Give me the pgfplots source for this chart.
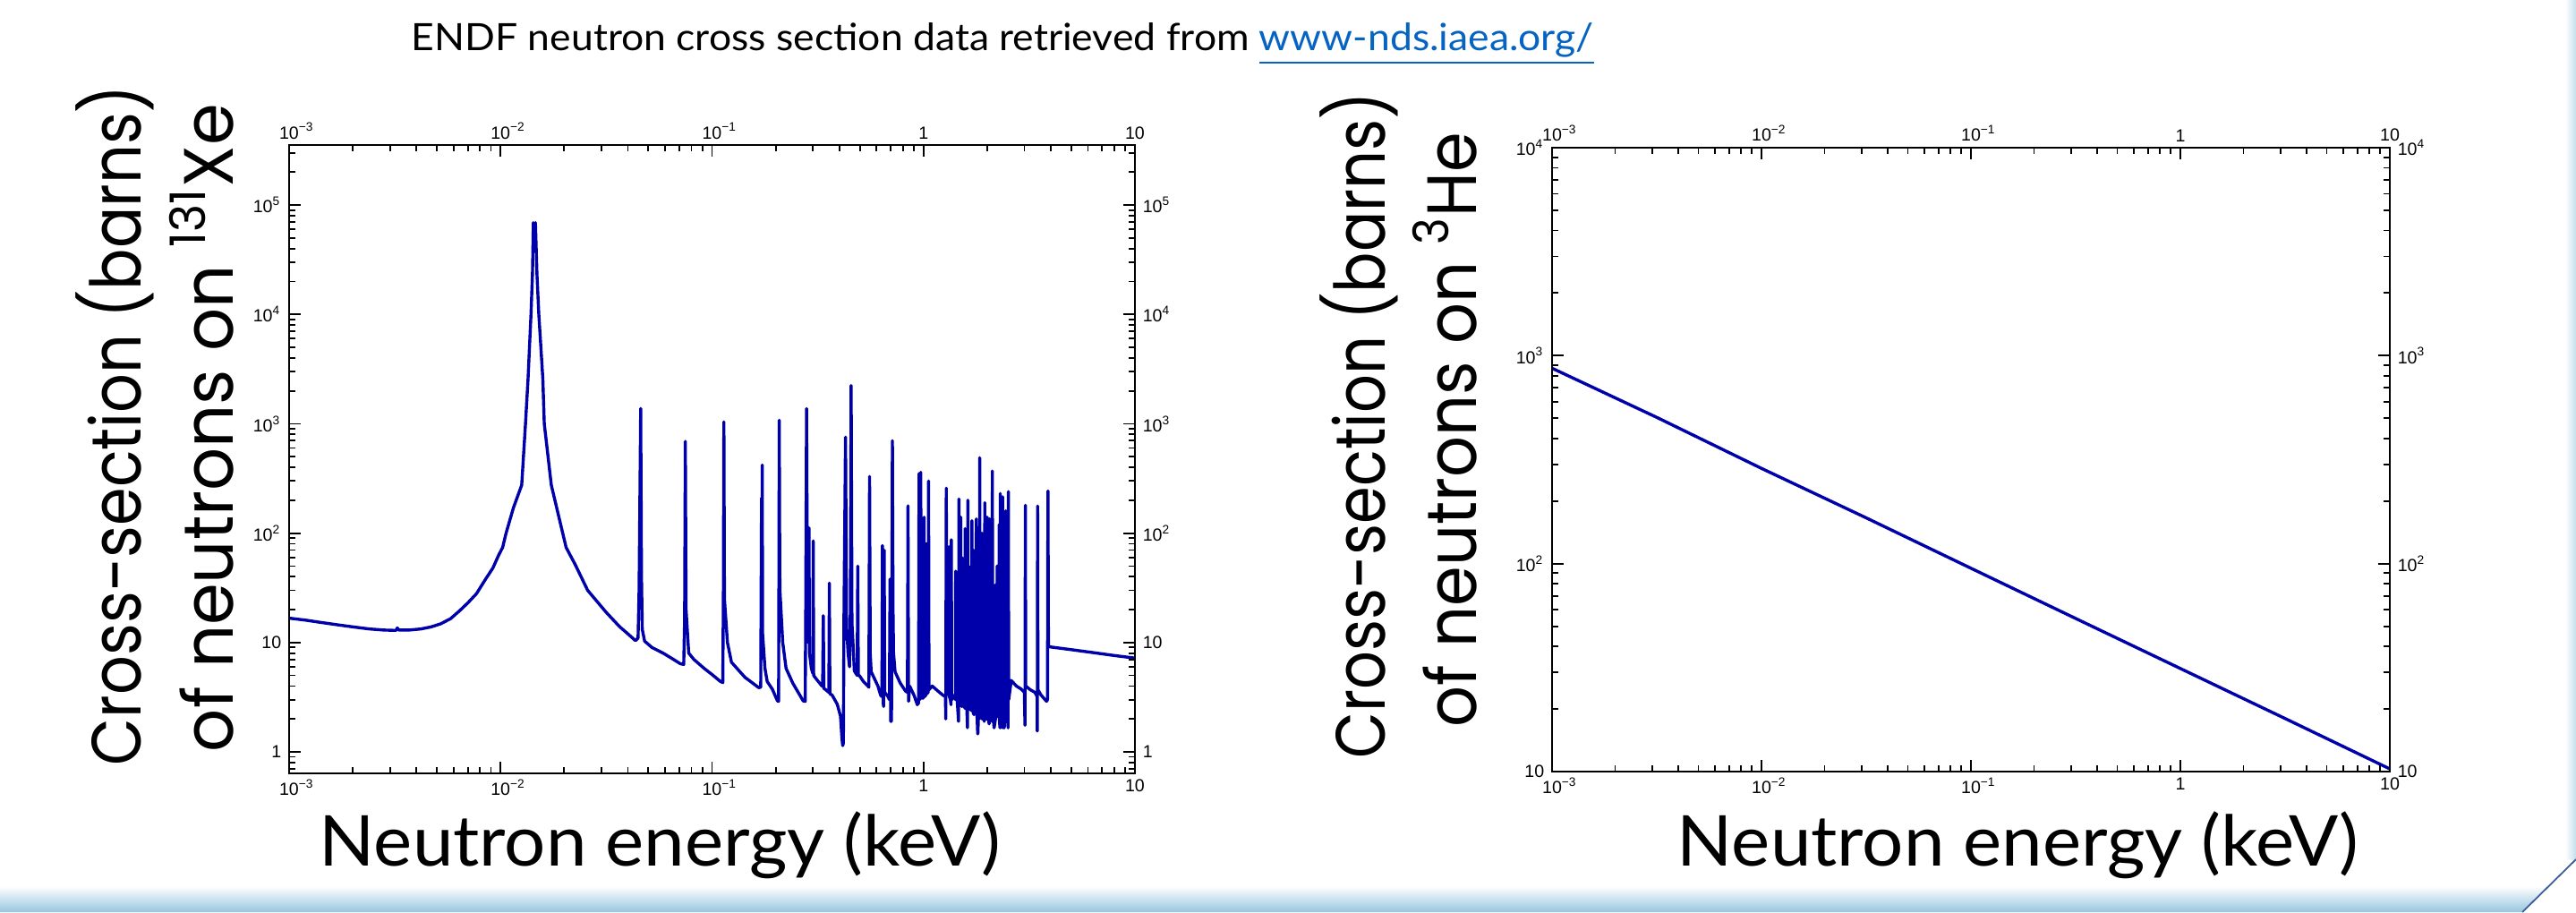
\documentclass[border=0pt]{standalone}
\usepackage{fontspec}
\usepackage{graphicx}
\usepackage{pgfplots}
\pgfplotsset{compat=1.18}
\setmainfont{Lato}
\newfontfamily\tickfont{Liberation Sans}
\newfontfamily\gothic{Poppins}
\definecolor{xsblue}{RGB}{0,0,170}
\definecolor{linkblue}{RGB}{5,99,193}
\definecolor{barblue}{RGB}{150,198,222}
\definecolor{diagblue}{RGB}{60,95,155}
\definecolor{stripblue}{RGB}{195,222,238}

\newsavebox\fitbox
\newlength\fitlen
\newcommand{\fitto}[2]{\sbox\fitbox{#2}\setlength\fitlen{\wd\fitbox}\pgfmathsetmacro\fitratio{#1/\fitlen}\scalebox{\fitratio}[1]{\usebox\fitbox}}

\pgfplotstableread{
x y
0.001 16.7
0.0012 16.0
0.0014 15.3
0.0017 14.5
0.002 13.9
0.0024 13.3
0.0028 13.0
0.0032 12.9
0.00325 13.6
0.0033 13.0
0.0037 13.0
0.0042 13.3
0.0047 13.9
0.0052 14.8
0.0058 16.5
0.0064 19.5
0.0070 23
0.0077 28
0.0085 38
0.0092 48
0.0098 63
0.01023 74
0.01062 100
0.0115 170
0.01259 275
0.01312 1000
0.01349 2570
0.01393 10000
0.01416 23800
0.01429 69000
0.01445 62000
0.01462 69000
0.01486 23800
0.01517 10000
0.01585 2570
0.0161 1000
0.01738 275
0.01968 100
0.02042 74
0.0225 52
0.02582 30
0.0315 19
0.0365 14
0.0400 12
0.04345 10.4
0.0447 11
0.0452 30
0.0460 1380
0.0464 40
0.0468 13.2
0.0480 10.3
0.0520 9.0
0.0587 8.0
0.0650 7.1
0.0708 6.4
0.0735 6.3
0.0742 16
0.0748 690
0.0754 20
0.0776 8.0
0.0821 7.0
0.0918 5.8
0.1000 5.1
0.1096 4.4
0.1125 4.3
0.1132 30
0.1138 1040
0.1145 25
0.1183 10
0.1236 6.6
0.1432 4.8
0.1663 3.87
0.1700 3.9
0.1715 210
0.1722 15
0.1728 420
0.1735 12
0.178 5.8
0.1824 4.4
0.1928 3.75
0.204 2.92
0.2065 2.9
0.2072 40
0.208 1080
0.2088 112
0.2095 30
0.216 10
0.224 5.8
0.241 4.25
0.27 2.92
0.276 2.9
0.2775 20
0.280 1380
0.2825 30
0.285 10
0.2875 112
0.289 8
0.295 5.8
0.300 5.2
0.301 85
0.3025 5.0
0.307 4.8
0.331 4.0
0.3335 4.0
0.336 17.6
0.338 3.8
0.345 3.7
0.357 3.5
0.359 35
0.361 3.4
0.37 3.3
0.391 2.73
0.405 2.13
0.412 1.3
0.415 1.14
0.418 1.2
0.421 20
0.428 755
0.433 14
0.44 8
0.447 6
0.451 20
0.455 2240
0.459 15
0.462 12
0.471 5.5
0.486 5.0
0.489 50
0.492 5.0
0.497 5.0
0.52 4.4
0.546 4.0
0.552 3.9
0.556 330
0.560 8
0.566 5.4
0.609 4.0
0.627 3.3
0.636 3.2
0.640 77
0.645 2.8
0.648 2.6
0.652 70
0.656 3.5
0.68 3.2
0.69 3.0
0.695 38
0.700 1.9
0.706 1.9
0.713 700
0.718 20
0.722 8
0.734 5.4
0.777 4.25
0.822 3.6
0.84 3.5
0.845 178
0.85 2.9
0.86 4.0
0.902 3.3
0.935 2.7
0.948 2.8
0.953 350
0.958 3.0
0.966 3.1
0.971 360
0.976 3.1
1.000 3.1
1.007 140
1.012 3.2
1.026 3.3
1.03 80
1.035 3.4
1.052 3.5
1.057 300
1.062 3.7
1.1 4.0
1.17 3.6
1.236 3.3
1.27 3.2
1.275 2.0
1.282 258
1.29 3.5
1.305 3.4
1.313 15
1.318 3.3
1.321 75
1.326 3.2
1.34 3.0
1.35 2.7
1.355 87
1.36 3.0
1.4 3.3
1.418 3.0
1.42 45
1.425 3.0
1.44 3.2
1.465 1.9
1.472 205
1.478 3.0
1.495 2.8
1.5 140
1.505 2.8
1.515 2.6
1.52 60
1.525 2.6
1.55 3.0
1.57 2.5
1.574 110
1.58 2.7
1.6 2.8
1.615 1.66
1.622 200
1.628 3.0
1.66 2.6
1.675 2.4
1.68 50
1.685 2.5
1.69 2.5
1.694 130
1.7 2.5
1.715 2.3
1.72 70
1.725 2.2
1.74 2.2
1.76 2.4
1.778 135
1.79 2.3
1.805 1.46
1.811 1.5
1.818 2.2
1.822 90
1.826 2.0
1.84 2.0
1.845 490
1.85 2.2
1.87 2.5
1.89 2.0
1.892 100
1.9 2.4
1.94 1.9
1.95 190
1.96 2.3
1.975 2.1
1.98 60
1.985 2.0
1.99 2.0
2.0 140
2.01 2.2
2.045 1.8
2.056 135
2.065 2.0
2.075 2.1
2.08 100
2.085 2.0
2.09 2.2
2.11 1.9
2.118 370
2.125 2.5
2.15 1.8
2.158 1.66
2.19 2.0
2.2 34
2.21 2.2
2.225 2.1
2.23 50
2.235 2.1
2.27 2.4
2.275 2.2
2.28 120
2.285 2.0
2.3 1.66
2.307 230
2.315 2.4
2.325 2.1
2.33 80
2.335 2.0
2.35 2.0
2.36 1.66
2.366 215
2.375 2.2
2.385 2.0
2.39 50
2.395 2.0
2.405 1.66
2.41 1.66
2.44 2.5
2.447 160
2.455 2.6
2.475 2.4
2.48 90
2.485 2.4
2.5 2.4
2.512 1.66
2.52 240
2.53 3.0
2.6 4.5
2.75 4.0
2.9 3.75
3.0 3.5
3.02 1.75
3.034 180
3.045 4.0
3.2 3.7
3.365 3.5
3.45 3.2
3.455 1.55
3.467 177
3.48 3.7
3.6 3.3
3.82 2.9
3.86 3.0
3.88 243
3.9 9.2
4.0 9.1
5.0 8.6
6.3 8.1
8.0 7.6
10.0 7.2
}\xedata

\pgfplotstableread{
x y
0.001 870
0.00316 505
0.01 287
0.0316 166
0.1 95
0.316 54.5
1 31.3
3.16 18
10 10.3
}\hedata

\begin{document}
\begin{tikzpicture}
\useasboundingbox (0,0) rectangle (719.5pt,254.75pt);
\fill[white] (0,0) rectangle (719.5pt,254.75pt);
% slide decoration
\shade[top color=white, bottom color=barblue] (0,0) -- (704.5pt,0) -- (711.9pt,7.25pt) -- (0,7.25pt) -- cycle;
\shade[left color=white, right color=stripblue] (716.5pt,14.75pt) rectangle (719.5pt,254.75pt);
\draw[diagblue, line width=0.45pt] (719.5pt,14.75pt) -- (704.5pt,0pt);

% ---------- left plot ----------
\begin{axis}[
    scale only axis, xmode=log, ymode=log,
    at={(80.75pt,38.75pt)}, anchor=south west,
    width=236.25pt, height=175.5pt,
    xmin=0.001, xmax=10, ymin=0.636, ymax=354000,
    axis line style={line width=0.6pt},
    every tick/.style={black, line width=0.45pt},
    major tick length=3.25pt, minor tick length=1.75pt, tick align=inside,
    xtick={0.001,0.01,0.1,1,10},
    minor xtick={0.002,0.003,0.004,0.005,0.006,0.007,0.008,0.009,0.02,0.03,0.04,0.05,0.06,0.07,0.08,0.09,0.2,0.3,0.4,0.5,0.6,0.7,0.8,0.9,2,3,4,5,6,7,8,9},
    xticklabels={10\rlap{\textsuperscript{−3}},10\rlap{\textsuperscript{−2}},10\rlap{\textsuperscript{−1}},1,10},
    ytick={1,10,100,1000,10000,100000},
    yticklabels={1,10,10\textsuperscript{2},10\textsuperscript{3},10\textsuperscript{4},10\textsuperscript{5}},
    minor ytick={0.7,0.8,0.9,2,3,4,5,6,7,8,9,20,30,40,50,60,70,80,90,200,300,400,500,600,700,800,900,2000,3000,4000,5000,6000,7000,8000,9000,20000,30000,40000,50000,60000,70000,80000,90000,200000,300000},
    ticklabel style={font=\tickfont\fontsize{4.9}{5.5}\selectfont},
    xticklabel style={inner sep=1.5pt},
    yticklabel style={inner sep=2pt},
    xticklabel pos=left, yticklabel pos=left,
  ]
\addplot[xsblue, line width=0.85pt, line join=round] table[x=x,y=y] {\xedata};
\end{axis}
\begin{axis}[
    scale only axis, xmode=log, ymode=log,
    at={(80.75pt,38.75pt)}, anchor=south west,
    width=236.25pt, height=175.5pt,
    xmin=0.001, xmax=10, ymin=0.636, ymax=354000,
    axis line style={line width=0.6pt},
    every tick/.style={black, line width=0.45pt},
    major tick length=3.25pt, minor tick length=1.75pt, tick align=inside,
    xtick={0.001,0.01,0.1,1,10},
    minor xtick={0.002,0.003,0.004,0.005,0.006,0.007,0.008,0.009,0.02,0.03,0.04,0.05,0.06,0.07,0.08,0.09,0.2,0.3,0.4,0.5,0.6,0.7,0.8,0.9,2,3,4,5,6,7,8,9},
    xticklabels={10\rlap{\textsuperscript{−3}},10\rlap{\textsuperscript{−2}},10\rlap{\textsuperscript{−1}},1,10},
    ytick={1,10,100,1000,10000,100000},
    yticklabels={1,10,10\textsuperscript{2},10\textsuperscript{3},10\textsuperscript{4},10\textsuperscript{5}},
    minor ytick={0.7,0.8,0.9,2,3,4,5,6,7,8,9,20,30,40,50,60,70,80,90,200,300,400,500,600,700,800,900,2000,3000,4000,5000,6000,7000,8000,9000,20000,30000,40000,50000,60000,70000,80000,90000,200000,300000},
    ticklabel style={font=\tickfont\fontsize{4.9}{5.5}\selectfont},
    xticklabel style={inner sep=1.5pt},
    yticklabel style={inner sep=2pt},
    xticklabel pos=right, yticklabel pos=right,
  ]
\end{axis}

% ---------- right plot ----------
\begin{axis}[
    scale only axis, xmode=log, ymode=log,
    at={(433.5pt,39.25pt)}, anchor=south west,
    width=234pt, height=174.25pt,
    xmin=0.001, xmax=10, ymin=10, ymax=10000,
    axis line style={line width=0.6pt},
    every tick/.style={black, line width=0.45pt},
    major tick length=3.25pt, minor tick length=1.75pt, tick align=inside,
    xtick={0.001,0.01,0.1,1,10},
    minor xtick={0.002,0.003,0.004,0.005,0.006,0.007,0.008,0.009,0.02,0.03,0.04,0.05,0.06,0.07,0.08,0.09,0.2,0.3,0.4,0.5,0.6,0.7,0.8,0.9,2,3,4,5,6,7,8,9},
    xticklabels={10\rlap{\textsuperscript{−3}},10\rlap{\textsuperscript{−2}},10\rlap{\textsuperscript{−1}},1,10},
    ytick={10,100,1000,10000},
    yticklabels={10,10\textsuperscript{2},10\textsuperscript{3},10\textsuperscript{4}},
    minor ytick={20,30,40,50,60,70,80,90,200,300,400,500,600,700,800,900,2000,3000,4000,5000,6000,7000,8000,9000},
    ticklabel style={font=\tickfont\fontsize{4.9}{5.5}\selectfont},
    xticklabel style={inner sep=1.5pt},
    yticklabel style={inner sep=2pt},
    xticklabel pos=left, yticklabel pos=left,
  ]
\addplot[xsblue, line width=0.85pt] table[x=x,y=y] {\hedata};
\end{axis}
\begin{axis}[
    scale only axis, xmode=log, ymode=log,
    at={(433.5pt,39.25pt)}, anchor=south west,
    width=234pt, height=174.25pt,
    xmin=0.001, xmax=10, ymin=10, ymax=10000,
    axis line style={line width=0.6pt},
    every tick/.style={black, line width=0.45pt},
    major tick length=3.25pt, minor tick length=1.75pt, tick align=inside,
    xtick={0.001,0.01,0.1,1,10},
    minor xtick={0.002,0.003,0.004,0.005,0.006,0.007,0.008,0.009,0.02,0.03,0.04,0.05,0.06,0.07,0.08,0.09,0.2,0.3,0.4,0.5,0.6,0.7,0.8,0.9,2,3,4,5,6,7,8,9},
    xticklabels={10\rlap{\textsuperscript{−3}},10\rlap{\textsuperscript{−2}},10\rlap{\textsuperscript{−1}},1,10},
    ytick={10,100,1000,10000},
    yticklabels={10,10\textsuperscript{2},10\textsuperscript{3},10\textsuperscript{4}},
    minor ytick={20,30,40,50,60,70,80,90,200,300,400,500,600,700,800,900,2000,3000,4000,5000,6000,7000,8000,9000},
    ticklabel style={font=\tickfont\fontsize{4.9}{5.5}\selectfont},
    xticklabel style={inner sep=1.5pt},
    yticklabel style={inner sep=2pt},
    xticklabel pos=right, yticklabel pos=right,
  ]
\end{axis}

% ---------- titles and labels ----------
\node[anchor=base west, inner sep=0pt, font=\fontsize{10.5}{12}\selectfont] at (114.75pt,240.5pt)
  {\fitto{330.25}{ENDF neutron cross section data retrieved from \textcolor{linkblue}{\underline{www-nds.iaea.org/}}}};
\node[anchor=base west, inner sep=0pt, font=\fontsize{19.6}{22}\selectfont] at (89pt,13pt) {\fitto{190.25}{Neutron energy (keV)}};
\node[anchor=base west, inner sep=0pt, font=\fontsize{19.6}{22}\selectfont] at (468.25pt,13pt) {\fitto{190.25}{Neutron energy (keV)}};

\node[rotate=90, anchor=base, inner sep=0pt, font=\gothic\fontsize{19.5}{22}\selectfont] at (39.25pt,136pt) {\fitto{190}{Cross-section (barns)}};
\node[rotate=90, anchor=base, inner sep=0pt, font=\gothic\fontsize{19.5}{22}\selectfont] at (65pt,135.25pt) {\fitto{181}{of neutrons on \textsuperscript{131}Xe}};
\node[rotate=90, anchor=base, inner sep=0pt, font=\gothic\fontsize{19.5}{22}\selectfont] at (386.75pt,136pt) {\fitto{186}{Cross-section (barns)}};
\node[rotate=90, anchor=base, inner sep=0pt, font=\gothic\fontsize{19.5}{22}\selectfont] at (412.25pt,134.75pt) {\fitto{166}{of neutrons on \textsuperscript{3}He}};
\end{tikzpicture}
\end{document}
